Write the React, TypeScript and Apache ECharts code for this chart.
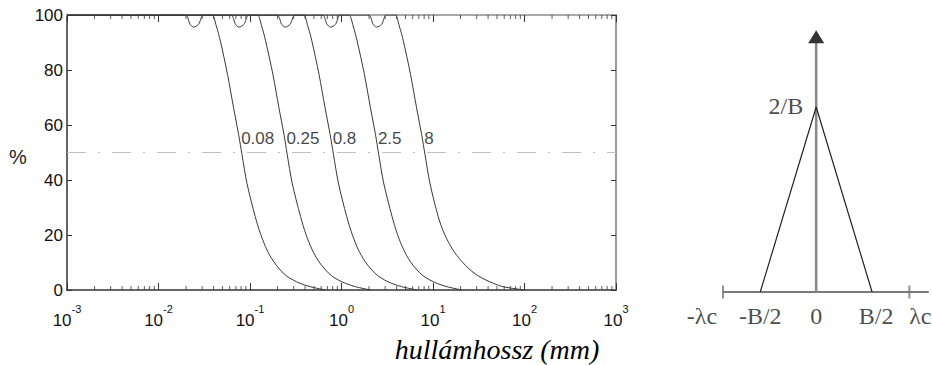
import React, { useEffect, useRef } from "react";
import * as echarts from "echarts";

// ---- left chart data ----
const cutoffLabels = ["0.08", "0.25", "0.8", "2.5", "8"];
const cutoffValues = [0.08, 0.25, 0.8, 2.5, 8];
const transmission = [100, 100, 96.6, 95.6, 96.6, 100, 100, 96, 90.6, 78.4, 66.3, 56.6, 49.3, 38.9, 26.7, 20.2, 14.6, 10.5, 7.3, 5.2, 3.6, 2.4, 1.2, 0];
const wl008 = [0.001, 0.0196, 0.0222, 0.0242, 0.0274, 0.031, 0.0384, 0.0428, 0.0474, 0.0568, 0.0661, 0.075, 0.0817, 0.0925, 0.114, 0.131, 0.153, 0.18, 0.214, 0.249, 0.297, 0.354, 0.455, 0.664];
const wl025 = [0.001, 0.0613, 0.0695, 0.0755, 0.0858, 0.097, 0.12, 0.134, 0.148, 0.178, 0.207, 0.235, 0.255, 0.289, 0.357, 0.409, 0.479, 0.561, 0.668, 0.778, 0.927, 1.11, 1.42, 2.07];
const wl08 = [0.001, 0.196, 0.222, 0.242, 0.274, 0.31, 0.384, 0.428, 0.474, 0.568, 0.661, 0.75, 0.817, 0.925, 1.14, 1.31, 1.53, 1.8, 2.14, 2.49, 2.97, 3.54, 4.55, 6.64];
const wl25 = [0.001, 0.613, 0.695, 0.755, 0.858, 0.97, 1.2, 1.34, 1.48, 1.78, 2.07, 2.35, 2.55, 2.89, 3.57, 4.09, 4.79, 5.61, 6.68, 7.78, 9.27, 11.1, 14.2, 20.7];
const wl8 = [0.001, 1.96, 2.22, 2.42, 2.74, 3.1, 3.84, 4.28, 4.74, 5.68, 6.61, 7.5, 8.17, 9.25, 11.4, 13.4, 16.5, 20.5, 25.5, 31, 38, 46, 58, 100];
const curveWavelengths = [wl008, wl025, wl08, wl25, wl8];
const halfLevel = 50;
const labelLevel = 55;
const yTicks = { min: 0, max: 100, step: 20 };
const xRange = { min: 0.001, max: 1000 };
const minorMantissas = [2, 3, 4, 5, 6, 7, 8, 9];
const decades = [0.001, 0.01, 0.1, 1, 10, 100];

// ---- right diagram data ----
const lambdaC = 1;
const halfB = 0.6;
const peak = 2 / (2 * halfB); // 2/B with B = 1.2
const diagramLabels = ["-λc", "-B/2", "0", "B/2", "λc"];
const diagramLabelX = [-lambdaC, -halfB, 0, halfB, lambdaC];
const diagramLabelDx = [-21, 0, 0, 4, 11];

const SANS = "'Liberation Sans', Arial, Helvetica, sans-serif";
const SERIF = "'Liberation Serif', 'Times New Roman', serif";

export default function App() {
  const ref = useRef<HTMLDivElement>(null);
  useEffect(() => {
    if (!ref.current) return;
    const chart = echarts.init(ref.current, null, { renderer: "svg" });

    const minorTicks: number[] = [];
    decades.forEach((d) => minorMantissas.forEach((m) => minorTicks.push(+(m * d).toPrecision(3))));

    const curveSeries = curveWavelengths.map((wl, i) => ({
      type: "line",
      name: cutoffLabels[i],
      xAxisIndex: 0,
      yAxisIndex: 0,
      data: wl.map((w, j) => [w, transmission[j]]),
      showSymbol: false,
      symbol: "none",
      smooth: 0.3,
      lineStyle: { color: "#383838", width: 1 },
      z: 5,
      silent: true,
    }));

    const option: any = {
      animation: false,
      backgroundColor: "#ffffff",
      grid: [
        { left: 67, top: 15, width: 549, height: 275 },
        { left: 723, top: 30, width: 205, height: 262 },
      ],
      xAxis: [
        {
          type: "log",
          gridIndex: 0,
          logBase: 10,
          min: xRange.min,
          max: xRange.max,
          splitNumber: 6,
          axisLine: { onZero: false, lineStyle: { color: "#666", width: 2 } },
          axisTick: { inside: true, length: 7, lineStyle: { color: "#333", width: 1 } },
          splitLine: { show: false },
          axisLabel: {
            margin: 22,
            formatter: (v: number) => `{b|10}{s|${Math.round(Math.log10(v))}}`,
            rich: {
              b: { fontSize: 17, fontFamily: SANS, color: "#111", verticalAlign: "bottom", lineHeight: 17 },
              s: { fontSize: 11, fontFamily: SANS, color: "#111", verticalAlign: "bottom", lineHeight: 11, padding: [0, 0, 14.5, 0] },
            },
          },
        },
        {
          type: "log",
          gridIndex: 0,
          position: "top",
          logBase: 10,
          min: xRange.min,
          max: xRange.max,
          splitNumber: 6,
          axisLine: { onZero: false, lineStyle: { color: "#a8a8a8", width: 2 } },
          axisTick: { inside: true, length: 7, lineStyle: { color: "#333", width: 1 } },
          splitLine: { show: false },
          axisLabel: { show: false },
        },
        {
          type: "value",
          gridIndex: 1,
          min: -1,
          max: 1.2,
          axisLine: { onZero: false, lineStyle: { color: "#7a7a7a", width: 2 } },
          axisTick: { show: false },
          axisLabel: { show: false },
          splitLine: { show: false },
        },
      ],
      yAxis: [
        {
          type: "value",
          gridIndex: 0,
          min: yTicks.min,
          max: yTicks.max,
          interval: yTicks.step,
          axisLine: { onZero: false, lineStyle: { color: "#666", width: 2 } },
          axisTick: { inside: true, length: 5, lineStyle: { color: "#333", width: 1 } },
          splitLine: { show: false },
          axisLabel: { margin: 4, fontSize: 17, fontFamily: SANS, color: "#111" },
        },
        {
          type: "value",
          gridIndex: 0,
          position: "right",
          min: yTicks.min,
          max: yTicks.max,
          interval: yTicks.step,
          axisLine: { show: true, onZero: false, lineStyle: { color: "#777", width: 1.5 } },
          axisTick: { inside: true, length: 5, lineStyle: { color: "#333", width: 1 } },
          splitLine: { show: false },
          axisLabel: { show: false },
        },
        {
          type: "value",
          gridIndex: 1,
          min: 0,
          max: 2.36,
          axisLine: { show: false },
          axisTick: { show: false },
          axisLabel: { show: false },
          splitLine: { show: false },
        },
      ],
      series: [
        {
          type: "line",
          xAxisIndex: 0,
          yAxisIndex: 0,
          data: [[xRange.min, halfLevel], [xRange.max, halfLevel]],
          showSymbol: false,
          symbol: "none",
          lineStyle: { color: "#c0c0c0", width: 1, type: [19, 12, 2, 12] },
          z: 3,
          silent: true,
        },
        ...curveSeries,
        {
          type: "scatter",
          xAxisIndex: 0,
          yAxisIndex: 0,
          data: minorTicks.map((v) => [v, yTicks.min]),
          symbol: "rect",
          symbolSize: [1, 4],
          symbolOffset: [0, -2],
          itemStyle: { color: "#333" },
          silent: true,
          z: 4,
        },
        {
          type: "scatter",
          xAxisIndex: 0,
          yAxisIndex: 0,
          data: minorTicks.map((v) => [v, yTicks.max]),
          symbol: "rect",
          symbolSize: [1, 4],
          symbolOffset: [0, 2],
          itemStyle: { color: "#333" },
          silent: true,
          z: 4,
        },
        {
          type: "scatter",
          xAxisIndex: 0,
          yAxisIndex: 0,
          data: cutoffValues.map((c, i) => ({ value: [c, labelLevel], name: cutoffLabels[i] })),
          symbolSize: 0,
          silent: true,
          z: 6,
          label: {
            show: true,
            formatter: (p: any) => p.name,
            position: [0, 0],
            align: "left",
            verticalAlign: "middle",
            fontSize: 17,
            fontFamily: SANS,
            color: "#111",
          },
        },
        // right diagram
        {
          type: "line",
          xAxisIndex: 2,
          yAxisIndex: 2,
          data: [[0, 0], [0, 2.243]],
          showSymbol: false,
          symbol: "none",
          lineStyle: { color: "#888", width: 2.5 },
          silent: true,
          z: 3,
        },
        {
          type: "line",
          xAxisIndex: 2,
          yAxisIndex: 2,
          data: [[-halfB, 0], [0, peak], [halfB, 0]],
          showSymbol: false,
          symbol: "none",
          lineStyle: { color: "#222", width: 1.2 },
          silent: true,
          z: 5,
        },
        {
          type: "scatter",
          xAxisIndex: 2,
          yAxisIndex: 2,
          data: [[0, 2.3]],
          symbol: "triangle",
          symbolSize: [16, 13],
          itemStyle: { color: "#000" },
          silent: true,
          z: 6,
        },
        {
          type: "scatter",
          xAxisIndex: 2,
          yAxisIndex: 2,
          data: [[-lambdaC, 0], [lambdaC, 0]],
          symbol: "rect",
          symbolSize: [2, 13],
          itemStyle: { color: "#777" },
          silent: true,
          z: 4,
        },
        {
          type: "scatter",
          xAxisIndex: 2,
          yAxisIndex: 2,
          clip: false,
          symbolSize: 0,
          silent: true,
          z: 6,
          data: [
            ...diagramLabels.map((t, i) => ({
              value: [diagramLabelX[i], 0],
              name: t,
              label: { position: [diagramLabelDx[i], 24], align: "center" },
            })),
            { value: [0, peak], name: "2/B", label: { position: [-13, -1], align: "right" } },
          ],
          label: {
            show: true,
            formatter: (p: any) => p.name,
            verticalAlign: "middle",
            fontSize: 24,
            fontFamily: SERIF,
            color: "#1a1a1a",
          },
        },
      ],
      graphic: [
        {
          type: "text",
          x: 18,
          y: 157,
          style: {
            text: "%",
            font: `20px ${SANS}`,
            fill: "#222",
            align: "center",
            verticalAlign: "middle",
          },
        },
        {
          type: "text",
          x: 497,
          y: 349,
          style: {
            text: "hullámhossz (mm)",
            font: `italic 28px ${SERIF}`,
            fill: "#000",
            align: "center",
            verticalAlign: "middle",
          },
        },
      ],
    };
    chart.setOption(option);
    return () => chart.dispose();
  }, []);
  return (
    <div
      ref={ref}
      style={{ position: "fixed", left: 0, top: 0, width: 932, height: 365, background: "#fff" }}
    />
  );
}
